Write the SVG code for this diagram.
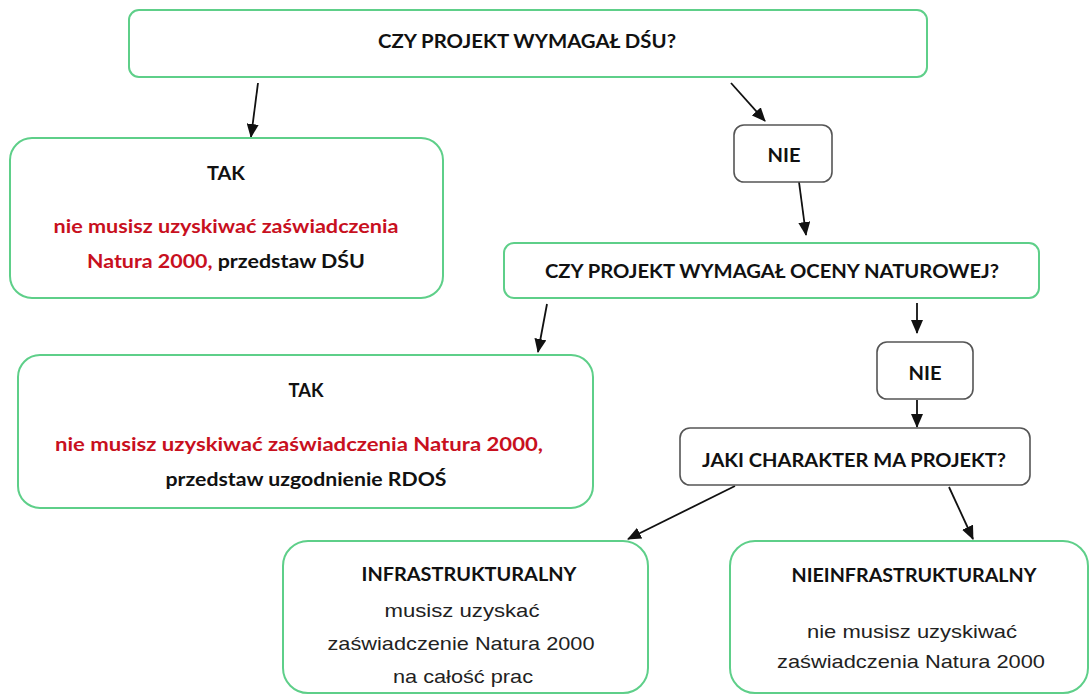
<svg xmlns="http://www.w3.org/2000/svg" width="1090" height="695" viewBox="0 0 1090 695">
<defs>
<style>
.g{fill:#fff;stroke:#5ecf89;stroke-width:2}
.k{fill:#fff;stroke:#555;stroke-width:1.6}
.b{font-family:Lato,"Open Sans","Liberation Sans",sans-serif;font-weight:bold;font-size:18.5px;fill:#111;text-anchor:middle}
.r{fill:#c8101e}
.n{font-family:"Liberation Sans",Arial,sans-serif;font-size:19px;fill:#222;text-anchor:middle}
.c{stroke:#111;stroke-width:1.8;fill:none;marker-end:url(#ah)}
</style>
<marker id="ah" markerUnits="userSpaceOnUse" markerWidth="14" markerHeight="12" viewBox="0 0 14 12" refX="13" refY="6" orient="auto">
<path d="M0,0 L14,6 L0,12 Z" fill="#111"/>
</marker>
</defs>
<rect width="1090" height="695" fill="#fff"/>
<g id="connectors">
<line class="c" x1="258" y1="83" x2="251" y2="137"/>
<line class="c" x1="731" y1="83" x2="765" y2="121"/>
<line class="c" x1="799" y1="182" x2="806" y2="235"/>
<line class="c" x1="547" y1="304" x2="538" y2="352"/>
<line class="c" x1="917" y1="303" x2="917" y2="333"/>
<line class="c" x1="917" y1="400" x2="917" y2="427"/>
<line class="c" x1="735" y1="486" x2="628" y2="539"/>
<line class="c" x1="949" y1="487" x2="973" y2="539"/>
</g>
<g id="q1">
<rect class="g" x="129" y="10" width="798" height="67" rx="10"/>
<text class="b" x="527" y="48" textLength="298" lengthAdjust="spacingAndGlyphs">CZY PROJEKT WYMAGAŁ DŚU?</text>
</g>
<g id="tak1">
<rect class="g" x="10" y="138" width="433" height="160" rx="22"/>
<text class="b" x="226" y="180" textLength="38" lengthAdjust="spacingAndGlyphs">TAK</text>
<text class="b r" x="226" y="233" textLength="345" lengthAdjust="spacingAndGlyphs">nie musisz uzyskiwać zaświadczenia</text>
<text class="b" x="226" y="268" textLength="278" lengthAdjust="spacingAndGlyphs"><tspan class="r">Natura 2000,</tspan> przedstaw DŚU</text>
</g>
<g id="nie1">
<rect class="k" x="734" y="125" width="98" height="57" rx="10"/>
<text class="b" x="784" y="162" textLength="33" lengthAdjust="spacingAndGlyphs">NIE</text>
</g>
<g id="q2">
<rect class="g" x="504" y="243" width="535" height="55" rx="10"/>
<text class="b" x="772" y="278" textLength="454" lengthAdjust="spacingAndGlyphs">CZY PROJEKT WYMAGAŁ OCENY NATUROWEJ?</text>
</g>
<g id="tak2">
<rect class="g" x="18" y="355" width="575" height="153" rx="22"/>
<text class="b" x="306" y="397" textLength="35" lengthAdjust="spacingAndGlyphs">TAK</text>
<text class="b r" x="299" y="451" textLength="488" lengthAdjust="spacingAndGlyphs">nie musisz uzyskiwać zaświadczenia Natura 2000,</text>
<text class="b" x="306" y="486" textLength="281" lengthAdjust="spacingAndGlyphs">przedstaw uzgodnienie RDOŚ</text>
</g>
<g id="nie2">
<rect class="k" x="877" y="342" width="96" height="57" rx="10"/>
<text class="b" x="925" y="380" textLength="33" lengthAdjust="spacingAndGlyphs">NIE</text>
</g>
<g id="q3">
<rect class="k" x="680" y="428" width="350" height="57" rx="10"/>
<text class="b" x="854" y="467" textLength="304" lengthAdjust="spacingAndGlyphs">JAKI CHARAKTER MA PROJEKT?</text>
</g>
<g id="infra">
<rect class="g" x="283" y="541" width="365" height="152" rx="25"/>
<text class="b" x="469" y="581" textLength="215" lengthAdjust="spacingAndGlyphs">INFRASTRUKTURALNY</text>
<text class="n" x="462" y="617" textLength="155" lengthAdjust="spacingAndGlyphs">musisz uzyskać</text>
<text class="n" x="461" y="650" textLength="267" lengthAdjust="spacingAndGlyphs">zaświadczenie Natura 2000</text>
<text class="n" x="463" y="683" textLength="140" lengthAdjust="spacingAndGlyphs">na całość prac</text>
</g>
<g id="nieinfra">
<rect class="g" x="730" y="541" width="358" height="152" rx="25"/>
<text class="b" x="914" y="582" textLength="245" lengthAdjust="spacingAndGlyphs">NIEINFRASTRUKTURALNY</text>
<text class="n" x="912" y="638" textLength="210" lengthAdjust="spacingAndGlyphs">nie musisz uzyskiwać</text>
<text class="n" x="911" y="668" textLength="268" lengthAdjust="spacingAndGlyphs">zaświadczenia Natura 2000</text>
</g>
</svg>
